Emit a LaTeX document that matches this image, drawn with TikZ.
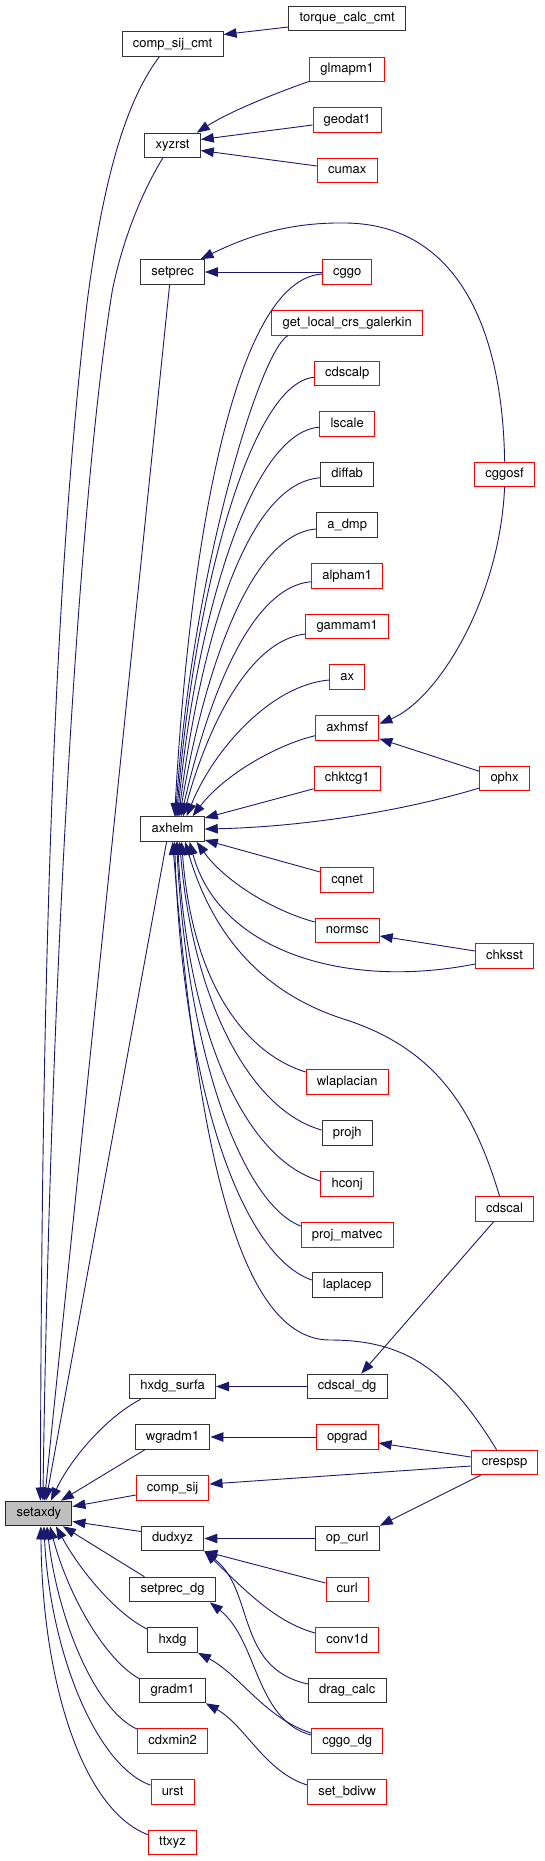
\documentclass[tikz,border=0pt]{standalone}
\usepackage{fontspec}
\setmainfont{TeX Gyre Heros}
\usepackage{tikz}
\usetikzlibrary{arrows.meta}
\definecolor{edgeblue}{HTML}{191970}
\definecolor{fngray}{HTML}{BFBFBF}
\newcommand{\fnfont}{\fontsize{13}{15}\selectfont}
\tikzset{
  fn/.style = {rectangle, draw=black!80, line width=1pt, fill=white, minimum height=24.6pt,
    inner xsep=10.7pt, inner ysep=0pt, text height=9.4pt, text depth=2.8pt, font=\fnfont},
  fnred/.style = {fn, draw=red},
  fnself/.style = {fn, draw=black!85, fill=fngray},
  call/.style = {draw=edgeblue, line width=0.9pt, -{Triangle[length=13pt,width=9.5pt]}}
}
\begin{document}
\begin{tikzpicture}[x=1pt, y=-1pt]
\useasboundingbox (0,0) rectangle (544,1861);

\node[fn]    (torque)     at (347.2,18.5)   {torque\_calc\_cmt};
\node[fn]    (compsijcmt) at (172.6,44)     {comp\_sij\_cmt};
\node[fnred] (glmapm)     at (347.2,69.5)   {glmapm1};
\node[fnred] (geodat)     at (347.2,120)    {geodat1};
\node[fn]    (xyzrst)     at (172.6,145.5)  {xyzrst};
\node[fnred] (cumax)      at (347.2,170.5)  {cumax};
\node[fn]    (setprec)    at (172.6,272)    {setprec};
\node[fnred] (cggo)       at (347.2,272)    {cggo};
\node[fnred] (getlocal)   at (347.2,322.7)  {get\_local\_crs\_galerkin};
\node[fnred] (cdscalp)    at (347.2,373.3)  {cdscalp};
\node[fnred] (lscale)     at (347.2,423.7)  {lscale};
\node[fn]    (diffab)     at (347.2,474.3)  {diffab};
\node[fnred] (cggosf)     at (504.6,474.3)  {cggosf};
\node[fn]    (admp)       at (347.2,525)    {a\_dmp};
\node[fnred] (alpham)     at (347.2,575.7)  {alpham1};
\node[fnred] (gammam)     at (347.2,626.5)  {gammam1};
\node[fnred] (ax)         at (347.2,677)    {ax};
\node[fnred] (axhmsf)     at (347.2,727.7)  {axhmsf};
\node[fnred] (chktcg)     at (347.2,778.3)  {chktcg1};
\node[fnred] (ophx)       at (504.6,778.3)  {ophx};
\node[fn]    (axhelm)     at (172.6,829)    {axhelm};
\node[fnred] (cqnet)      at (347.2,880)    {cqnet};
\node[fnred] (normsc)     at (347.2,930.5)  {normsc};
\node[fnred] (chksst)     at (504.6,956)    {chksst};
\node[fnred] (wlaplacian) at (347.2,1082)   {wlaplacian};
\node[fn]    (projh)      at (347.2,1133)   {projh};
\node[fnred] (hconj)      at (347.2,1184)   {hconj};
\node[fnred] (cdscal)     at (504.6,1209)   {cdscal};
\node[fnred] (projmatvec) at (347.2,1234.7) {proj\_matvec};
\node[fn]    (laplacep)   at (347.2,1285)   {laplacep};
\node[fn]    (hxdgsurfa)  at (172.6,1386.5) {hxdg\_surfa};
\node[fn]    (cdscaldg)   at (347.2,1386.5) {cdscal\_dg};
\node[fn]    (wgradm)     at (172.6,1437)   {wgradm1};
\node[fnred] (opgrad)     at (347.2,1437)   {opgrad};
\node[fnred] (crespsp)    at (504.6,1462.5) {crespsp};
\node[fnred] (compsij)    at (172.6,1488)   {comp\_sij};
\node[fnself] (setaxdy)   at (38.9,1513.5)  {setaxdy};
\node[fn]    (dudxyz)     at (172.6,1538.5) {dudxyz};
\node[fn]    (opcurl)     at (347.2,1538.5) {op\_curl};
\node[fn]    (setprecdg)  at (172.6,1589.5) {setprec\_dg};
\node[fnred] (curl)       at (347.2,1589.5) {curl};
\node[fn]    (hxdg)       at (172.6,1640)   {hxdg};
\node[fnred] (convd)      at (347.2,1640)   {conv1d};
\node[fn]    (gradm)      at (172.6,1690.5) {gradm1};
\node[fn]    (dragcalc)   at (347.2,1690.5) {drag\_calc};
\node[fnred] (cdxmin)     at (172.6,1741)   {cdxmin2};
\node[fnred] (cggodg)     at (347.2,1741)   {cggo\_dg};
\node[fnred] (urst)       at (172.6,1792)   {urst};
\node[fnred] (setbdivw)   at (347.2,1792)   {set\_bdivw};
\node[fnred] (ttxyz)      at (172.6,1842.5) {ttxyz};

\draw[call] ([yshift=-8.5pt]torque.west) -- ([yshift=9.5pt]compsijcmt.east);
\draw[call] ([yshift=1pt]glmapm.south west) .. controls (270.7,95) and (229,112) .. ([xshift=-4pt]xyzrst.north east);
\draw[call] ([yshift=-5pt]geodat.west) -- ([yshift=6pt]xyzrst.east);
\draw[call] ([yshift=4.5pt]cumax.west) -- ([yshift=-5pt]xyzrst.east);
\draw[call] (cggo) -- (setprec);
\draw[call] (cggosf.north) .. controls (502.8,330) and (458,225) .. (346.7,223) .. controls (291.5,222) and (249.8,235) .. ([xshift=-4.5pt]setprec.north east);
\draw[call] (cggosf.south) .. controls (499.7,600) and (437.2,700) .. ([yshift=4pt]axhmsf.east);
\draw[call] ([yshift=7pt]ophx.west) -- ([yshift=-11pt]axhmsf.east);

\draw[call] ([yshift=-2pt]cggo.west) .. controls (234,280) and (189.5,545) .. ([xshift=2pt]axhelm.north);
\draw[call] ([xshift=16.7pt]getlocal.south west) .. controls (260,350) and (191.5,575) .. ([xshift=3pt]axhelm.north);
\draw[call] ([yshift=-4pt]cdscalp.west) .. controls (250,383) and (193.6,597) .. ([xshift=4pt]axhelm.north);
\draw[call] ([yshift=-3.5pt]lscale.west) .. controls (250,432) and (195.7,621) .. ([xshift=5pt]axhelm.north);
\draw[call] ([yshift=-3.5pt]diffab.west) .. controls (244.6,483) and (199.9,647) .. ([xshift=6pt]axhelm.north);
\draw[call] ([yshift=-4pt]admp.west) .. controls (250,534) and (204,672) .. ([xshift=7pt]axhelm.north);
\draw[call] ([yshift=-6pt]alpham.west) .. controls (250,587) and (208,699) .. ([xshift=8.5pt]axhelm.north);
\draw[call] ([yshift=-7.5pt]gammam.west) .. controls (250,640) and (208,725) .. ([xshift=10.5pt]axhelm.north);
\draw[call] ([yshift=-3pt]ax.west) .. controls (270.7,685) and (213.4,750) .. ([xshift=14pt]axhelm.north);
\draw[call] ([yshift=-8pt]axhmsf.west) .. controls (276,745) and (224,775) .. ([xshift=20pt]axhelm.north);
\draw[call] ([yshift=-10.5pt]chktcg.west) -- ([yshift=11pt]axhelm.east);
\draw[call] ([yshift=-9.7pt]ophx.west) .. controls (400,812) and (300,827) .. (axhelm.east);
\draw[call] ([yshift=8pt]cqnet.west) -- ([yshift=-11pt]axhelm.east);
\draw[call] ([yshift=8.5pt]normsc.west) .. controls (270.7,910) and (223.8,880) .. ([xshift=24pt]axhelm.south);
\draw[call] ([yshift=5pt]chksst.west) -- ([yshift=-5.5pt]normsc.east);
\draw[call] ([yshift=-8pt]chksst.west) .. controls (343.5,990) and (218.6,950) .. ([xshift=17pt]axhelm.south);
\draw[call] ([xshift=-5pt]cdscal.north) .. controls (473.7,1110) and (437.2,1050) .. (346.7,1020) .. controls (249.8,990) and (208.2,920) .. ([xshift=12.5pt]axhelm.south);
\draw[call] ([yshift=10pt]wlaplacian.west) .. controls (249.8,1055) and (192.6,990) .. ([xshift=9pt]axhelm.south);
\draw[call] ([yshift=3pt]projh.west) .. controls (249.8,1110) and (192.6,1000) .. ([xshift=7pt]axhelm.south);
\draw[call] ([yshift=3pt]hconj.west) .. controls (244.6,1160) and (187.4,1030) .. ([xshift=5pt]axhelm.south);
\draw[call] ([yshift=8.7pt]projmatvec.west) .. controls (244.6,1205) and (187.4,1060) .. ([xshift=4pt]axhelm.south);
\draw[call] ([yshift=5pt]laplacep.west) .. controls (239.4,1255) and (182.2,1080) .. ([xshift=2pt]axhelm.south);
\draw[call] ([xshift=-8pt]crespsp.north) .. controls (447.6,1370) and (406,1340) .. (330,1340) .. controls (239.4,1340) and (197.8,1150) .. (axhelm.south);

\draw[call] ([xshift=-11pt]cdscal.south) -- ([xshift=14pt]cdscaldg.north);
\draw[call] (cdscaldg) -- (hxdgsurfa);
\draw[call] (opgrad) -- (wgradm);
\draw[call] ([yshift=5.5pt]crespsp.west) -- ([yshift=-6pt]opgrad.east);
\draw[call] ([yshift=-3.5pt]crespsp.west) -- ([yshift=4pt]compsij.east);
\draw[call] ([xshift=-24pt]crespsp.south) -- (opcurl.north east);
\draw[call] (opcurl) -- (dudxyz);
\draw[call] ([yshift=6.5pt]curl.west) -- (dudxyz.south east);
\draw[call] ([yshift=7pt]convd.west) .. controls (275,1622) and (245,1590) .. (dudxyz.south east);
\draw[call] ([yshift=6.5pt]dragcalc.west) .. controls (235,1668) and (255,1590) .. (dudxyz.south east);
\draw[call] ([yshift=6pt]cggodg.west) .. controls (255,1720) and (258,1640) .. ([xshift=-6pt]setprecdg.south east);
\draw[call] ([yshift=8pt]cggodg.west) .. controls (265,1718) and (240,1675) .. (hxdg.south east);
\draw[call] ([yshift=7pt]setbdivw.west) .. controls (265,1772) and (245,1725) .. (gradm.south east);

\draw[call] ([xshift=-13.3pt]compsijcmt.south) .. controls (122.8,105) and (102,190) .. (87.4,300) .. controls (52,600) and (41.6,1000) .. ([xshift=1.5pt]setaxdy.north);
\draw[call] ([xshift=-10pt]xyzrst.south) .. controls (140.5,195) and (122.8,240) .. (112.4,290) .. controls (78,500) and (50,1000) .. ([xshift=4pt]setaxdy.north);
\draw[call] ([xshift=-3pt]setprec.south) -- ([xshift=5.5pt]setaxdy.north);
\draw[call] ([xshift=-6pt]axhelm.south) -- ([xshift=7pt]setaxdy.north);
\draw[call] ([xshift=11.4pt]hxdgsurfa.south west) .. controls (105,1418) and (70,1460) .. ([xshift=12pt]setaxdy.north);
\draw[call] ([xshift=10pt]wgradm.south west) -- ([xshift=22pt]setaxdy.north);
\draw[call] ([yshift=-7pt]compsij.west) -- ([yshift=7pt]setaxdy.east);
\draw[call] ([yshift=7pt]dudxyz.west) -- ([yshift=-8pt]setaxdy.east);
\draw[call] ([xshift=15pt]setprecdg.north west) -- ([xshift=24pt]setaxdy.south);
\draw[call] ([yshift=-2pt]hxdg.north west) .. controls (115,1613) and (80,1570) .. ([xshift=17pt]setaxdy.south);
\draw[call] ([yshift=-1pt]gradm.north west) .. controls (105,1660) and (68,1595) .. ([xshift=11pt]setaxdy.south);
\draw[call] ([yshift=-1pt]cdxmin.north west) .. controls (95,1710) and (58,1620) .. ([xshift=8pt]setaxdy.south);
\draw[call] ([yshift=-6pt]urst.north west) .. controls (95,1765) and (50,1650) .. ([xshift=5pt]setaxdy.south);
\draw[call] ([yshift=-5pt]ttxyz.north west) .. controls (82,1810) and (42,1680) .. ([xshift=2pt]setaxdy.south);

\end{tikzpicture}
\end{document}
